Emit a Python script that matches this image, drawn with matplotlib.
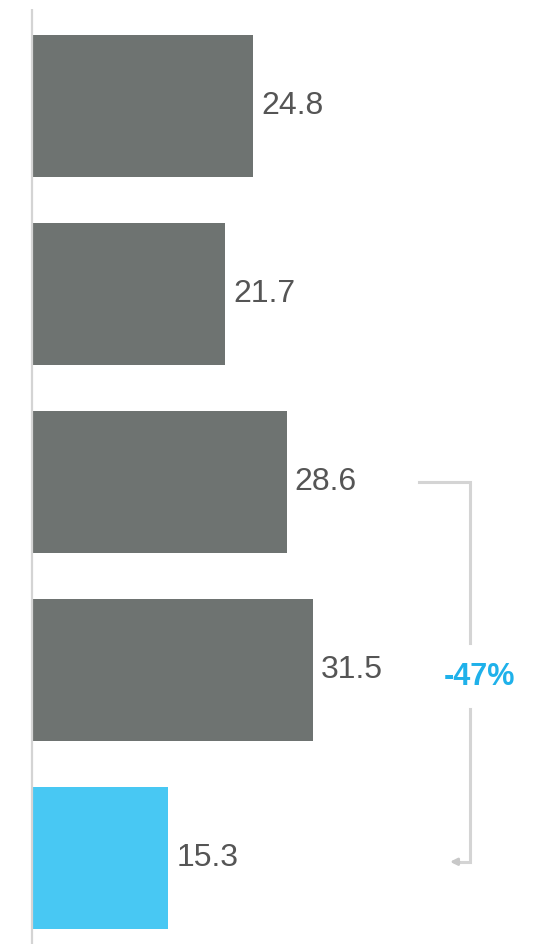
import matplotlib
matplotlib.use("Agg")
import matplotlib.pyplot as plt

# ── data ──────────────────────────────────────────────────────────────────────
values = [24.8, 21.7, 28.6, 31.5, 15.3]
labels = ["24.8", "21.7", "28.6", "31.5", "15.3"]
colors = ["#6e7371", "#6e7371", "#6e7371", "#6e7371", "#48c8f3"]
change_label = "-47%"
bracket_from, bracket_to = 2, 4   # bars compared by the bracket

GRAY_LINE = "#d4d4d4"
TEXT = "#555555"
BLUE = "#1fb1ea"

plt.rcParams["font.family"] = ["Liberation Sans", "DejaVu Sans"]

fig = plt.figure(figsize=(5.35, 9.45), dpi=100)
ax = fig.add_axes([32 / 535, 0, 503 / 535, 1])

px = 503 / 56.45          # pixels per data unit on x
ypx = 188.0               # pixels per bar slot
ytop = -107 / ypx
ybot = 945 / ypx + ytop
ax.set_xlim(0, 56.45)
ax.set_ylim(ybot, ytop)

pos = list(range(len(values)))
ax.barh(pos, values, height=142 / ypx, color=colors, edgecolor="none", zorder=2)

for p, v, lab in zip(pos, values, labels):
    ax.text(v + 8 / px, p - 1 / ypx, lab, ha="left", va="center",
            fontsize=23, color=TEXT)

# left axis line
ax.plot([0, 0], [10 / ypx + ytop, ybot], color=GRAY_LINE, lw=1.6,
        solid_capstyle="butt", zorder=3, clip_on=False)

# bracket
bx0 = (419 - 32) / px
bx1 = (470 - 32) / px
barrow = (450 - 32) / px
mid = (bracket_from + bracket_to) / 2 + 6 / ypx
gap = 33 / ypx
ax.plot([bx0, bx1, bx1], [bracket_from, bracket_from, mid - gap],
        color=GRAY_LINE, lw=2.2, solid_joinstyle="miter")
ax.plot([bx1, bx1, barrow + 0.6], [mid + gap, bracket_to + 0.02, bracket_to + 0.02],
        color=GRAY_LINE, lw=2.2, solid_joinstyle="miter")
ax.annotate("", xy=(barrow, bracket_to + 0.02), xytext=(barrow + 1.0, bracket_to + 0.02),
            arrowprops=dict(arrowstyle="-|>", color="#c8c8c8", lw=2,
                            mutation_scale=10, shrinkA=0, shrinkB=0))
ax.text(bx1 + 9 / px, mid, change_label, ha="center", va="center",
        fontsize=22, fontweight="bold", color=BLUE)

ax.axis("off")
fig.savefig("out.png", dpi=100)
